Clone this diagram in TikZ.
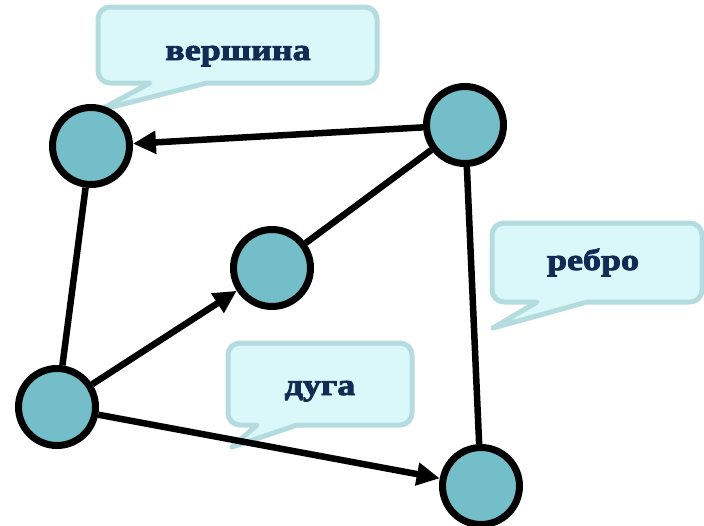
\documentclass[tikz,border=0pt]{standalone}
\usepackage{fontspec}
\setmainfont{Liberation Serif}
\newfontfamily\labelfont[FakeStretch=1.2,FakeBold=3]{Liberation Serif}
\usetikzlibrary{arrows.meta}
\definecolor{vertexfill}{HTML}{73BEC8}
\definecolor{bubblefill}{HTML}{DAF8FA}
\definecolor{bubbleline}{HTML}{B4DCDE}
\definecolor{labelink}{HTML}{112B55}

% speech bubble: #1,#2 top-left, #3,#4 bottom-right, #5,#6 tail base x-range, #7,#8 tail tip
\newcommand\speechbox[8]{%
  \draw[bubble] ({#1+12},#2) -- ({#3-12},#2)
    arc[start angle=90,end angle=0,radius=12] -- (#3,{#4+12})
    arc[start angle=0,end angle=-90,radius=12] -- (#6,#4) -- (#7,#8) -- (#5,#4)
    -- ({#1+12},#4)
    arc[start angle=270,end angle=180,radius=12] -- (#1,{#2-12})
    arc[start angle=180,end angle=90,radius=12] -- cycle;}

\begin{document}
\begin{tikzpicture}[x=1pt,y=1pt,
  vertex/.style={circle,draw=black,line width=7pt,fill=vertexfill,
    minimum size=77pt,inner sep=0pt},
  edge/.style={line width=6.5pt,black},
  arc edge/.style={edge,-{Triangle[length=23pt,width=22pt]}},
  bubble/.style={fill=bubblefill,draw=bubbleline,line width=5pt,line join=round},
  tag/.style={text=labelink,font=\labelfont\bfseries\fontsize{30}{34}\selectfont,
    anchor=base,inner sep=0pt}]
\useasboundingbox[fill=white] (0,0) rectangle (704,-525);

% speech bubbles
\speechbox{98}{-7}{377}{-83}{150}{207}{100}{-110}
\speechbox{492}{-223}{702}{-302}{537}{587}{493}{-328}
\speechbox{228}{-343}{412}{-425}{257}{297}{232}{-447}
\node[tag] (tvertex) at (238,-60) {вершина};
\node[tag] (tedge) at (593,-270) {ребро};
\node[tag] (tarc) at (320,-395) {дуга};

% graph vertices
\node[vertex] (a) at (91,-146) {};
\node[vertex] (b) at (465,-125) {};
\node[vertex] (c) at (272,-268) {};
\node[vertex] (d) at (57,-407) {};
\node[vertex] (e) at (481,-486) {};

% edges and arcs
\draw[edge] (d) -- (a);
\draw[edge] (b) -- (c);
\draw[edge] (b) -- (e);
\draw[arc edge] (b) -- (a);
\draw[arc edge] (d) -- (c);
\draw[arc edge] (d) -- (e);
\end{tikzpicture}
\end{document}
